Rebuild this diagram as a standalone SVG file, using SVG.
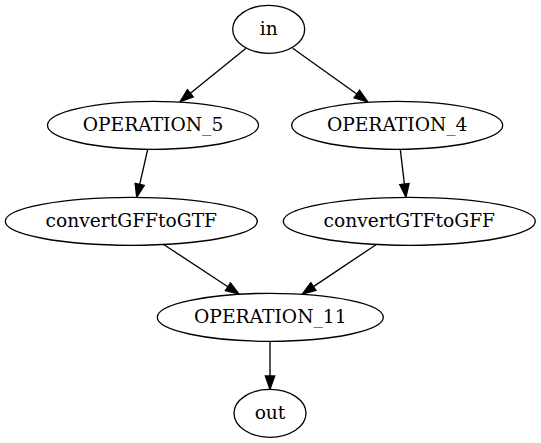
<svg xmlns="http://www.w3.org/2000/svg" width="541" height="443" viewBox="0 0 541 443">
<style>
.node ellipse{fill:#fff;stroke:#000;stroke-width:1.33}
.node text{font-family:"DejaVu Serif","Liberation Serif",serif;font-size:18.67px;fill:#000;text-anchor:middle}
.edges line{stroke:#000;stroke-width:1.33;marker-end:url(#arr)}
</style>
<defs>
<marker id="arr" markerUnits="userSpaceOnUse" viewBox="-1 -6 16 12" markerWidth="16" markerHeight="12" refX="0" refY="0" orient="auto">
<path d="M0,-4.67L13.33,0L0,4.67z" fill="#000" stroke="#000" stroke-width="1.33"/>
</marker>
</defs>
<rect width="541" height="443" fill="#fff"/>
<g class="edges" id="edges">
<line x1="246" y1="48.3" x2="190.4" y2="93.3"/>
<line x1="292.7" y1="48.3" x2="356.8" y2="94.0"/>
<line x1="147.7" y1="149.3" x2="139.7" y2="184.3"/>
<line x1="400.3" y1="149.3" x2="404.4" y2="184.1"/>
<line x1="164" y1="244.7" x2="227.9" y2="286.7"/>
<line x1="376" y1="244.7" x2="313.4" y2="286.6"/>
<line x1="270" y1="340.7" x2="270" y2="376"/>
</g>
<g class="node" id="in"><ellipse cx="268.7" cy="29.3" rx="36" ry="24"/><text x="268.7" y="34.5">in</text></g>
<g class="node" id="OPERATION_5"><ellipse cx="153" cy="125.3" rx="105.5" ry="24"/><text x="153" y="130.5">OPERATION_5</text></g>
<g class="node" id="OPERATION_4"><ellipse cx="397.2" cy="125.3" rx="105.5" ry="24"/><text x="397.2" y="130.5">OPERATION_4</text></g>
<g class="node" id="convertGFFtoGTF"><ellipse cx="131.3" cy="221.3" rx="126" ry="24"/><text x="131.3" y="226.5">convertGFFtoGTF</text></g>
<g class="node" id="convertGTFtoGFF"><ellipse cx="409.3" cy="221.3" rx="126" ry="24"/><text x="409.3" y="226.5">convertGTFtoGFF</text></g>
<g class="node" id="OPERATION_11"><ellipse cx="270.3" cy="317.3" rx="113" ry="24"/><text x="270.3" y="322.5">OPERATION_11</text></g>
<g class="node" id="out"><ellipse cx="270" cy="413.3" rx="36" ry="24"/><text x="270" y="418.5">out</text></g>
</svg>
